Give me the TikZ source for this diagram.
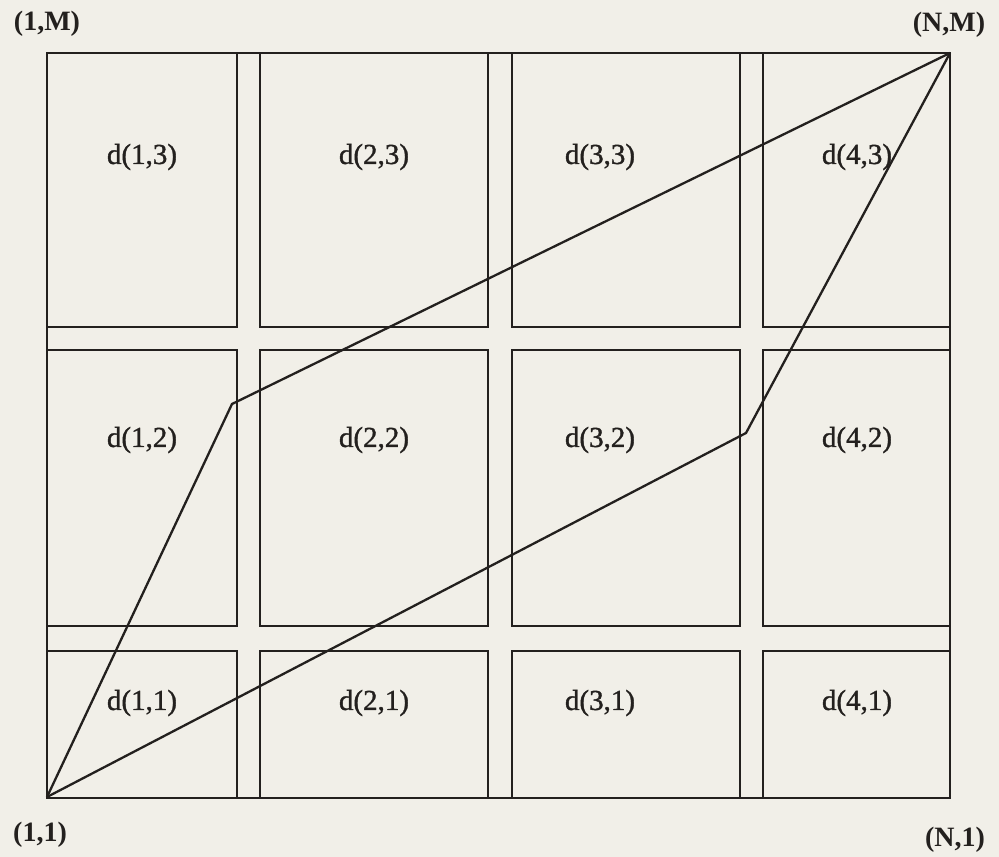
\documentclass[tikz,border=0pt]{standalone}
\usepackage{fontspec}
\setmainfont{Liberation Serif}
\newfontfamily\medserif[FakeBold=1.2]{Liberation Serif}
\definecolor{paper}{RGB}{241,239,232}
\definecolor{ink}{RGB}{35,32,30}
\tikzset{
  cell/.style={draw=ink, line width=2.3pt},
  lab/.style={text=ink, font=\medserif\fontsize{29}{31}\selectfont, inner sep=0pt},
  corner/.style={text=ink, font=\bfseries\fontsize{28}{30}\selectfont, inner sep=0pt},
  path/.style={draw=ink, line width=2.3pt, line join=miter}
}
\begin{document}
\begin{tikzpicture}[x=1pt,y=-1pt]
\fill[paper] (0,0) rectangle (999,857);
\useasboundingbox (0,0) rectangle (999,857);
% outer border
\draw[cell] (47,53) rectangle (950,798);
% cells: columns [47,237] [260,488] [512,740] [763,950]; rows [53,327] [350,626] [651,798]
\foreach \xa/\xb in {47/237, 260/488, 512/740, 763/950}{
  \foreach \ya/\yb in {53/327, 350/626, 651/798}{
    \draw[cell] (\xa,\ya) rectangle (\xb,\yb);
  }
}
% cell labels
\node[lab] (d13) at (142,157) {d(1,3)};
\node[lab] (d23) at (374,157) {d(2,3)};
\node[lab] (d33) at (600,157) {d(3,3)};
\node[lab] (d43) at (857,157) {d(4,3)};
\node[lab] (d12) at (142,440) {d(1,2)};
\node[lab] (d22) at (374,440) {d(2,2)};
\node[lab] (d32) at (600,440) {d(3,2)};
\node[lab] (d42) at (857,440) {d(4,2)};
\node[lab] (d11) at (142,703) {d(1,1)};
\node[lab] (d21) at (374,703) {d(2,1)};
\node[lab] (d31) at (600,703) {d(3,1)};
\node[lab] (d41) at (857,703) {d(4,1)};
% corner labels
\node[corner] (c1M) at (47,24) {(1,M)};
\node[corner] (cNM) at (949,25) {(N,M)};
\node[corner] (c11) at (40,835) {(1,1)};
\node[corner] (cN1) at (955,840) {(N,1)};
% path points
\coordinate (p11) at (47,797);
\coordinate (pNM) at (950,53);
\coordinate (pa) at (232,404);
\coordinate (pb) at (746,433);
\draw[path] (p11) -- (pa) -- (pNM);
\draw[path] (p11) -- (pb) -- (pNM);
\end{tikzpicture}
\end{document}
